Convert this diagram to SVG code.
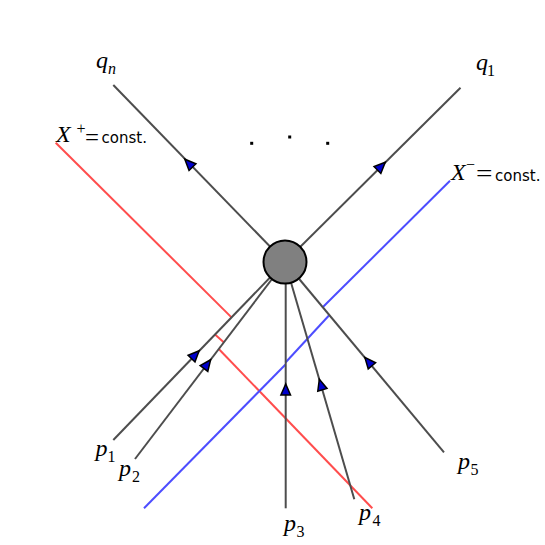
<svg xmlns="http://www.w3.org/2000/svg" xmlns:xlink="http://www.w3.org/1999/xlink" width="545" height="545" viewBox="0 0 545 545">
<style>
.ln{stroke:#4d4d4d;stroke-width:2;fill:none}
.red{stroke:#ff4d4d;stroke-width:2;fill:none}
.blue{stroke:#4d4dff;stroke-width:2;fill:none}
.m{font-family:"Liberation Serif","DejaVu Serif",serif;font-style:italic;font-size:24px;fill:#000}
.sub{font-family:"Liberation Serif","DejaVu Serif",serif;font-style:normal;font-size:16px;fill:#000}
.subi{font-family:"Liberation Serif","DejaVu Serif",serif;font-style:italic;font-size:16px;fill:#000}
.rm{font-family:"Liberation Serif","DejaVu Serif",serif;font-style:normal;font-size:24px;fill:#000}
.sf{font-family:"DejaVu Sans",sans-serif;font-size:15px;fill:#000}
.dot{fill:#000}
</style>
<defs>
<path id="arrow" d="M6,0 L-5,-4.8 L-5,4.8 Z" fill="#0000cc" stroke="#000" stroke-width="1.5" stroke-linejoin="miter"/>
</defs>
<g id="lightcones">
<polyline class="red" points="55.7,142.7 231.5,317.4"/>
<polyline class="red" points="215,334.4 224,342.5"/>
<polyline class="red" points="218.8,349 372.3,508.3"/>
<polyline class="blue" points="144,508.3 285.5,364.5"/>
<polyline class="blue" points="285.5,362.5 329.4,315"/>
<polyline class="blue" points="322.7,307.3 450,180.7"/>
</g>
<g id="connectors">
<line class="ln" x1="113.3" y1="85" x2="285" y2="262"/>
<line class="ln" x1="460.5" y1="87.7" x2="285" y2="262"/>
<line class="ln" x1="113.3" y1="440" x2="285" y2="262"/>
<line class="ln" x1="135" y1="459" x2="285" y2="262"/>
<line class="ln" x1="285.7" y1="508.3" x2="285.7" y2="262"/>
<line class="ln" x1="354.3" y1="499.3" x2="285" y2="262"/>
<line class="ln" x1="444" y1="452.3" x2="285" y2="262"/>
<use xlink:href="#arrow" transform="translate(189,163.5) rotate(-134.2)"/>
<use xlink:href="#arrow" transform="translate(381,166.5) rotate(-44.9)"/>
<use xlink:href="#arrow" transform="translate(195,355) rotate(-46)"/>
<use xlink:href="#arrow" transform="translate(207,364.5) rotate(-52.7)"/>
<use xlink:href="#arrow" transform="translate(285.7,390) rotate(-90)"/>
<use xlink:href="#arrow" transform="translate(321,385) rotate(-106.2)"/>
<use xlink:href="#arrow" transform="translate(368.7,362) rotate(-129.9)"/>
</g>
<g id="vertex">
<circle cx="285" cy="262" r="21.5" fill="#808080" stroke="#000" stroke-width="2"/>
</g>
<g id="dots">
<rect class="dot" x="250.2" y="141.8" width="3" height="3"/>
<rect class="dot" x="288.2" y="135.5" width="3" height="3"/>
<rect class="dot" x="326.2" y="141.8" width="3" height="3"/>
</g>
<g id="label-qn"><text class="m" x="96" y="68">q</text><text class="subi" x="108" y="74">n</text></g>
<g id="label-q1"><text class="m" x="476" y="69.5">q</text><text class="sub" x="487" y="75.5">1</text></g>
<g id="label-xplus">
<text class="m" x="56" y="142">X</text>
<text class="sub" x="76.5" y="134" font-size="13">+</text>
<text class="rm" x="85" y="145" textLength="14" lengthAdjust="spacingAndGlyphs">=</text>
<text class="sf" x="101.5" y="143">const.</text>
</g>
<g id="label-xminus">
<text class="m" x="451" y="180">X</text>
<text class="sub" x="466" y="170">−</text>
<text class="rm" x="476" y="181" textLength="16.5" lengthAdjust="spacingAndGlyphs">=</text>
<text class="sf" x="495" y="181">const.</text>
</g>
<g id="label-p1"><text class="m" x="95.5" y="455.5">p</text><text class="sub" x="107.5" y="462">1</text></g>
<g id="label-p2"><text class="m" x="119" y="475.5">p</text><text class="sub" x="132" y="482">2</text></g>
<g id="label-p3"><text class="m" x="284" y="530.5">p</text><text class="sub" x="296.5" y="537">3</text></g>
<g id="label-p4"><text class="m" x="359" y="519.5">p</text><text class="sub" x="372.5" y="526">4</text></g>
<g id="label-p5"><text class="m" x="458" y="468.5">p</text><text class="sub" x="470.5" y="475">5</text></g>
</svg>
